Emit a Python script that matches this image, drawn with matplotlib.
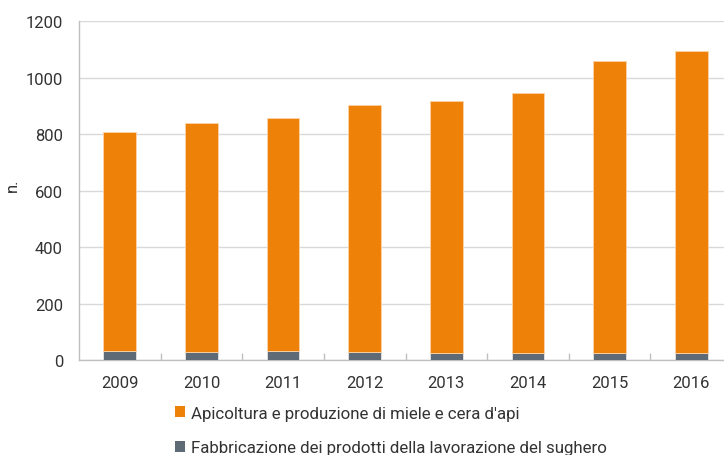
import matplotlib
matplotlib.use("Agg")
import matplotlib.pyplot as plt
import numpy as np
from matplotlib.patches import Patch

plt.rcParams['font.family'] = ['Roboto', 'DejaVu Sans']

years = ["2009", "2010", "2011", "2012", "2013", "2014", "2015", "2016"]
totals = [807, 841, 858, 903, 917, 947, 1058, 1096]
sughero = [32, 29, 32, 28, 26, 26, 26, 26]
apicoltura = [t - s for t, s in zip(totals, sughero)]

label_api = "Apicoltura e produzione di miele e cera d'api"
label_sug = "Fabbricazione dei prodotti della lavorazione del sughero"

c_orange = "#EE8208"
c_gray = "#5E6B77"
c_text = "#333333"
c_grid = "#D9D9D9"

fig = plt.figure(figsize=(7.24, 4.56), dpi=100)
ax = fig.add_axes([79 / 724, (456 - 361.3) / 456, (732 - 79) / 724, (361.3 - 22.3) / 456])

x = np.arange(len(years))
w = 0.40
ax.bar(x, sughero, width=w, color=c_gray, edgecolor="#FFFFFF", linewidth=0.4, zorder=3)
ax.bar(x, apicoltura, width=w, bottom=sughero, color=c_orange,
       edgecolor="#FBD3A8", linewidth=0.6, zorder=3)

ax.set_xlim(-0.5, len(years) - 0.5)
ax.set_ylim(0, 1200)
ax.set_yticks(np.arange(0, 1201, 200))
ax.yaxis.grid(True, color=c_grid, linewidth=1.0, zorder=0)
ax.set_axisbelow(True)

ax.set_xticks(x)
ax.set_xticklabels(years)
ax.set_xticks(np.arange(0.5, len(years) - 1, 1.0), minor=True)
ax.tick_params(axis="x", which="major", length=0, pad=10.5, labelsize=12, labelcolor=c_text)
ax.tick_params(axis="x", which="minor", direction="in", length=5, width=1, color="#BFBFBF")
ax.tick_params(axis="y", length=0, pad=11.5, labelsize=12, labelcolor=c_text)

for side in ["top", "right"]:
    ax.spines[side].set_visible(False)
for side in ["left", "bottom"]:
    ax.spines[side].set_color("#BFBFBF")
    ax.spines[side].set_linewidth(1.0)

fig.text(12 / 724, 1 - 185 / 456, "n.", rotation=90, ha="center", va="center",
         fontsize=12, color=c_text)

handles = [Patch(facecolor=c_orange, edgecolor="none"),
           Patch(facecolor=c_gray, edgecolor="none")]
fig.legend(handles, [label_api, label_sug], loc="upper left",
           bbox_to_anchor=(168 / 724, 1 - 400 / 456), frameon=False,
           fontsize=12.2, labelcolor=c_text, handlelength=0.6, handleheight=0.6,
           handletextpad=0.35, labelspacing=1.15, borderaxespad=0)

fig.savefig("out.png", dpi=100)
